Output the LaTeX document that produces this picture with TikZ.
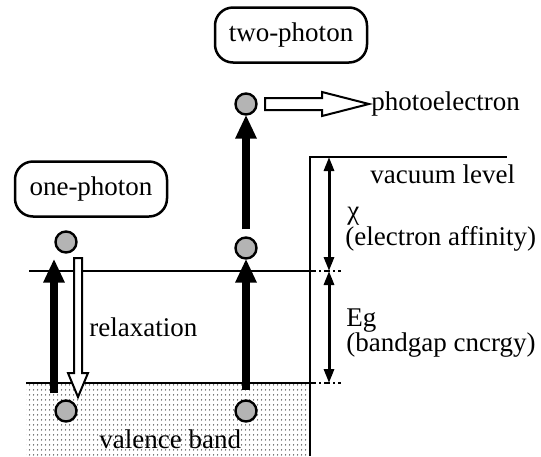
\documentclass[tikz,border=0pt]{standalone}
\usepackage{fontspec}
\setmainfont{Liberation Serif}
\usetikzlibrary{arrows.meta,patterns.meta,positioning}
\definecolor{BandInk}{HTML}{000000}
\definecolor{BandDot}{HTML}{4A4A4A}
\definecolor{ElectronFill}{HTML}{B4B4B4}
\tikzdeclarepattern{
  name=bandDots, type=uncolored,
  bottom left={(0pt,0pt)}, top right={(2pt,2.5pt)}, tile size={(2pt,2.5pt)},
  code={\fill (1pt,1.25pt) circle (0.45pt);}
}
\tikzset{
  every node/.style={font=\fontsize{13.5}{16}\selectfont, text=BandInk},
  level/.style={draw=BandInk, line width=0.8pt},
  levelExt/.style={draw=BandInk, line width=1.2pt, dash pattern=on 3pt off 1.5pt on 1pt off 1.5pt},
  span/.style={{Triangle[length=7pt,width=5pt]}-{Triangle[length=7pt,width=5pt]}, draw=BandInk, line width=1.5pt},
  pump/.style={-{Triangle[length=12pt,width=10pt]}, draw=BandInk, line width=4pt},
  hollow/.style={draw=BandInk, fill=white, line width=1pt, line join=miter},
  process/.style={draw=BandInk, line width=1.25pt, rounded corners=9pt, minimum width=76pt, minimum height=27.5pt, inner sep=0pt},
  electron/.style={circle, draw=BandInk, fill=ElectronFill, line width=1.2pt, minimum size=10.5pt, inner sep=0pt},
  tag/.style={inner sep=0pt, anchor=base west},
}
\begin{document}
\begin{tikzpicture}[x=0.5pt,y=-0.5pt]
  \useasboundingbox (0,0) rectangle (541,456);
  % Valence band and levels
  \fill[pattern={bandDots}, pattern color=BandDot] (26,383) rectangle (310,456);
  \draw[level] (26,383) -- (310,383);
  \draw[level] (29,271) -- (310,271);
  \draw[level] (310,456) -- (310,157) -- (507,157);
  \draw[levelExt] (310,271) -- (341,271);
  \draw[levelExt] (310,383) -- (341,383);
  % Energy spans
  \coordinate (vac) at (329,157);
  \coordinate (cb) at (329,271);
  \coordinate (vb) at (329,383);
  \draw[span] (vac) -- (cb);
  \draw[span] (cb) -- (vb);
  \node[tag] (lblVac) at (370,183) {vacuum level};
  \node[tag] (lblChi) at (347,219) {χ};
  \node[tag] (lblAff) at (345,245) {(electron affinity)};
  \node[tag] (lblEg) at (346,326) {Eg};
  \node[tag] (lblGap) at (346,351) {(bandgap cncrgy)};
  % Processes
  \node[process] (one) at (91,189) {one-photon};
  \node[process] (two) at (291,35) {two-photon};
  % Electrons
  \node[electron] (gA) at (66,411) {};
  \node[electron] (xA) at (66,242) {};
  \node[electron] (gB) at (246,411) {};
  \node[electron] (mB) at (246,248) {};
  \node[electron] (xB) at (246,104) {};
  % Excitations
  \draw[pump] ([shift={(-6pt,3pt)}]gA.north) -- ([shift={(-6pt,-2.5pt)}]xA.south);
  \draw[pump] ([yshift=4.5pt]gB.north) -- ([yshift=0.5pt]mB.south);
  \draw[pump] ([yshift=3.5pt]mB.north) -- ([yshift=0.5pt]xB.south);
  % Relaxation and emission
  \draw[hollow] (74,258) -- (82,258) -- (82,373) -- (88,373) -- (78,397) -- (68,373) -- (74,373) -- cycle;
  \node[tag] (lblRel) at (89,336) {relaxation};
  \draw[hollow] (265,98) -- (322,98) -- (322,92) -- (369,104) -- (322,116) -- (322,110) -- (265,110) -- cycle;
  \node[tag] (lblPhoto) at (371,110) {photoelectron};
  \node[tag] (lblVal) at (99,448) {valence band};
\end{tikzpicture}
\end{document}
